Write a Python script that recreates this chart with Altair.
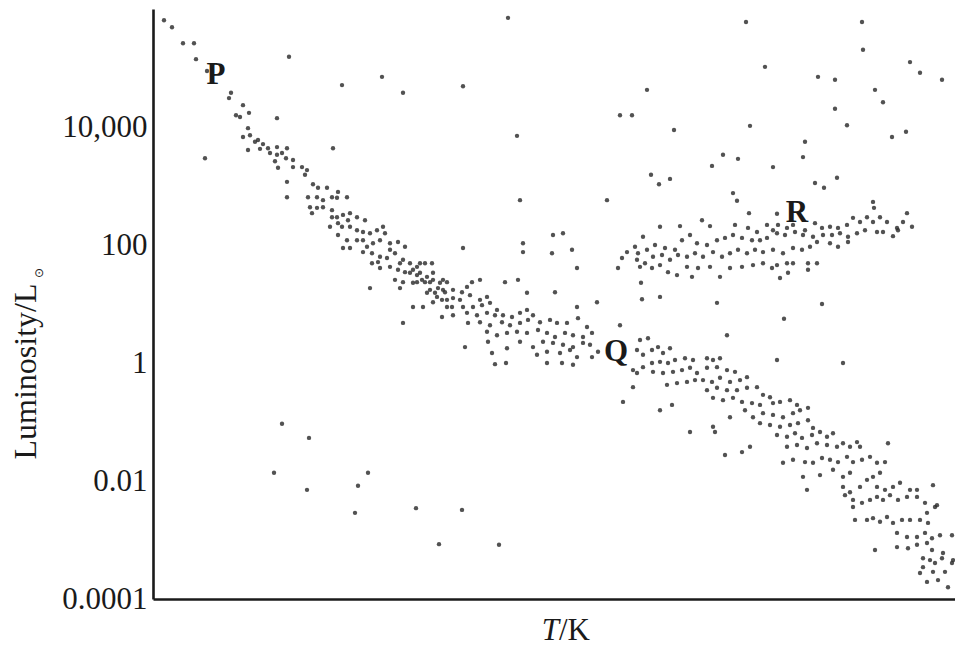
import altair as alt
import pandas as pd

# Hertzsprung-Russell diagram: position along temperature axis (0 = hottest, left)
# and log10 of luminosity in solar units.

main_sequence_upper = [
    (1.1, 5.81), (1.9, 5.69), (3.0, 5.42), (4.1, 5.42), (4.3, 5.15), (5.4, 4.95),
    (7.8, 4.58), (7.6, 4.49), (9.0, 4.37), (9.6, 4.24), (8.7, 4.17), (8.3, 4.20),
    (9.5, 3.98), (9.0, 3.83), (9.7, 3.86), (10.2, 3.75), (10.5, 3.78), (11.0, 3.71),
    (10.7, 3.63), (11.5, 3.64), (11.7, 3.56), (12.4, 3.66), (12.4, 3.53), (12.9, 3.56),
    (13.4, 3.64), (13.3, 3.47), (9.5, 3.61), (12.2, 3.42), (14.0, 3.44), (14.0, 3.32),
    (14.9, 3.32), (15.4, 3.27), (15.2, 3.19), (12.5, 3.31), (13.4, 3.07), (13.4, 2.81),
    (16.0, 3.03), (16.5, 2.97), (17.4, 2.97), (15.5, 2.81), (16.4, 2.81), (17.0, 2.76),
    (17.9, 2.81), (18.4, 2.80), (19.4, 2.81), (18.5, 2.90), (15.7, 2.64), (16.4, 2.63),
    (17.0, 2.64), (17.9, 2.59), (15.9, 2.54), (17.9, 2.47), (18.4, 2.47), (19.0, 2.51),
    (19.7, 2.54), (20.4, 2.47), (21.2, 2.42), (18.5, 2.37), (18.9, 2.31), (19.5, 2.42),
    (19.7, 2.31), (20.4, 2.25), (17.7, 2.31), (21.7, 2.20), (22.4, 2.25), (23.0, 2.31),
    (23.2, 2.20), (18.5, 2.17), (19.4, 2.08), (19.0, 1.95), (19.7, 1.95), (20.4, 2.08),
    (21.0, 2.08), (21.4, 1.97), (22.0, 2.03), (22.7, 2.08), (23.7, 2.03), (24.5, 2.05),
    (25.2, 1.97), (21.0, 1.88), (21.9, 1.86), (22.7, 1.80), (23.4, 1.78), (24.2, 1.86),
    (25.0, 1.75), (25.7, 1.69), (26.4, 1.63), (27.2, 1.69), (27.9, 1.69), (21.9, 1.69),
    (22.7, 1.61), (23.7, 1.63), (24.5, 1.58), (25.2, 1.54), (26.0, 1.58), (26.7, 1.53),
    (27.4, 1.46), (28.0, 1.53), (29.0, 1.41), (24.2, 1.41), (25.0, 1.37), (26.0, 1.36),
    (26.9, 1.41), (27.7, 1.37), (21.7, 1.27), (24.7, 1.27), (27.4, 1.19), (28.2, 1.19),
    (29.0, 1.24), (26.0, 0.95), (27.0, 0.95), (28.0, 1.03), (28.9, 1.07), (29.4, 0.95),
    (21.0, 2.22), (23.7, 1.92), (22.5, 1.71), (24.7, 1.69), (26.7, 1.69), (25.7, 1.53),
    (26.4, 1.49), (26.4, 1.37), (27.2, 1.37), (28.0, 1.41), (28.7, 1.36), (29.4, 1.37),
    (27.7, 1.24), (28.5, 1.27), (29.2, 1.20), (28.4, 1.12), (29.4, 1.07), (29.9, 0.95),
    (28.9, 0.78), (25.0, 0.68),
]

main_sequence_middle = [
    (30.0, 1.24), (30.9, 1.20), (31.4, 1.29), (31.9, 1.37), (32.7, 1.41), (30.0, 1.10),
    (30.7, 1.07), (31.7, 1.15), (32.7, 1.07), (33.4, 1.12), (31.0, 0.95), (32.0, 0.95),
    (32.9, 0.98), (33.7, 1.02), (34.4, 0.90), (30.0, 0.81), (31.4, 0.85), (32.4, 0.81),
    (33.4, 0.85), (34.2, 0.81), (35.0, 0.81), (35.9, 0.78), (36.7, 0.85), (37.4, 0.90),
    (38.0, 0.81), (31.5, 0.68), (32.7, 0.69), (33.7, 0.64), (34.9, 0.69), (35.7, 0.64),
    (36.7, 0.68), (37.5, 0.73), (38.7, 0.69), (39.7, 0.73), (40.4, 0.68), (41.4, 0.68),
    (42.5, 0.76), (43.4, 0.61), (33.4, 0.53), (34.4, 0.47), (35.4, 0.51), (36.4, 0.53),
    (37.4, 0.51), (38.5, 0.56), (39.4, 0.51), (40.2, 0.44), (41.2, 0.51), (42.0, 0.47),
    (43.0, 0.44), (43.9, 0.51), (36.7, 0.36), (38.0, 0.27), (39.0, 0.36), (40.0, 0.34),
    (41.0, 0.31), (42.0, 0.27), (43.0, 0.34), (31.2, 0.27), (33.5, 0.36), (35.4, 0.25),
    (33.9, 0.17), (38.4, 0.14), (39.4, 0.19), (40.7, 0.17), (42.4, 0.10), (34.2, -0.02),
    (35.3, 0.00), (39.4, 0.00), (40.9, 0.00), (42.0, -0.03), (41.7, 0.22), (43.7, 0.31),
    (43.9, 0.10), (44.5, 0.19), (46.7, 0.64), (48.7, 0.39), (49.5, 0.42), (48.4, 0.22),
    (49.0, 0.14), (49.9, 0.22), (48.0, -0.12), (49.0, -0.07), (49.9, 0.00), (48.4, -0.17),
    (48.0, -0.41), (47.0, -0.66),
]

main_sequence_lower = [
    (50.5, 0.27), (51.0, 0.17), (51.7, 0.25), (50.7, 0.02), (51.5, 0.00), (52.2, 0.05),
    (53.2, 0.08), (54.0, 0.05), (55.4, 0.08), (56.0, 0.05), (56.7, 0.08), (50.0, -0.15),
    (51.0, -0.17), (52.0, -0.15), (52.9, -0.12), (53.7, -0.08), (54.4, -0.17), (55.4, -0.08),
    (56.4, -0.07), (57.4, -0.12), (58.2, -0.15), (51.4, -0.37), (52.4, -0.34), (53.4, -0.32),
    (54.2, -0.29), (55.0, -0.29), (55.9, -0.32), (56.7, -0.25), (57.7, -0.32), (58.7, -0.29),
    (59.4, -0.24), (55.4, -0.46), (56.4, -0.42), (57.4, -0.46), (58.4, -0.46), (59.4, -0.42),
    (60.4, -0.41), (61.0, -0.54), (61.7, -0.58), (56.0, -0.59), (57.0, -0.63), (58.0, -0.59),
    (58.9, -0.66), (59.9, -0.68), (60.7, -0.71), (62.0, -0.68), (62.7, -0.66), (63.7, -0.63),
    (64.4, -0.71), (50.7, -0.80), (51.9, -0.71), (57.7, -0.92), (59.2, -0.80), (60.0, -0.92),
    (61.0, -0.85), (62.0, -0.88), (63.0, -0.92), (64.0, -0.85), (64.7, -0.80), (65.5, -0.76),
    (60.7, -1.02), (61.7, -1.05), (62.7, -1.08), (63.7, -1.05), (64.5, -1.02), (65.5, -0.97),
    (66.0, -1.10), (56.0, -1.08), (56.2, -1.17), (59.7, -1.42), (57.2, -1.56), (62.4, -1.22),
    (63.4, -1.25), (64.2, -1.19), (64.9, -1.27), (65.9, -1.22), (66.7, -1.17), (67.4, -1.25),
    (68.0, -1.19), (63.4, -1.42), (64.4, -1.39), (65.4, -1.44), (66.4, -1.36), (67.4, -1.39),
    (68.4, -1.42), (69.0, -1.36), (69.7, -1.42), (70.4, -1.34), (63.0, -1.69), (64.0, -1.64),
    (65.2, -1.68), (66.0, -1.69), (66.9, -1.61), (67.7, -1.64), (68.5, -1.68), (69.4, -1.59),
    (70.0, -1.68), (65.0, -1.93), (66.7, -1.90), (68.0, -1.81), (69.0, -1.93), (69.7, -1.86),
    (65.4, -2.15), (69.0, -2.10), (69.7, -2.19), (70.0, -2.32), (53.7, -1.17), (58.9, -1.51),
    (69.2, -2.24), (70.0, -2.44), (70.7, -1.42), (73.5, -1.36), (70.9, -1.64), (71.7, -1.59),
    (72.4, -1.69), (73.2, -1.68), (70.7, -2.10), (71.4, -1.98), (72.0, -1.93), (72.7, -1.86),
    (72.4, -2.10), (73.2, -2.15), (74.0, -2.10), (74.7, -2.03), (75.7, -2.15), (76.4, -2.15),
    (70.9, -2.37), (71.7, -2.32), (72.4, -2.27), (73.0, -2.32), (73.7, -2.24), (74.5, -2.32),
    (75.4, -2.27), (76.4, -2.27), (77.2, -2.37), (78.0, -2.07), (78.2, -2.44), (70.2, -2.66),
    (71.4, -2.66), (72.0, -2.63), (72.7, -2.69), (73.4, -2.61), (74.0, -2.71), (74.9, -2.66),
    (75.7, -2.66), (76.7, -2.66), (77.4, -2.54), (77.5, -2.71), (78.4, -2.41), (74.4, -2.88),
    (75.4, -2.95), (76.4, -2.95), (77.2, -2.88), (77.9, -2.97), (78.7, -2.92), (79.9, -2.92),
    (72.2, -3.17), (74.4, -3.12), (75.5, -3.14), (76.4, -3.08), (77.4, -3.05), (77.9, -3.17),
    (77.0, -3.31), (77.7, -3.34), (78.2, -3.39), (78.9, -3.31), (79.0, -3.22), (79.9, -3.39),
    (77.0, -3.46), (78.0, -3.54), (79.2, -3.54), (76.7, -3.56), (77.4, -3.71), (78.5, -3.68),
    (79.5, -3.80), (80.0, -3.34),
]

giant_branch = [
    (57.0, 3.53), (58.5, 3.46), (65.0, 3.49), (49.8, 3.19), (50.6, 3.03), (51.7, 3.12),
    (55.9, 3.34), (66.2, 3.05), (67.1, 2.97), (68.4, 3.14), (58.0, 2.88), (58.4, 2.75),
    (59.6, 2.54), (62.4, 2.53), (54.9, 2.42), (55.7, 2.32), (52.7, 2.32), (50.7, 2.31),
    (72.0, 2.73), (72.1, 2.63), (75.4, 2.54),
    (58.2, 2.34), (59.5, 2.29), (60.4, 2.22), (61.4, 2.34), (62.0, 2.25), (62.5, 2.34),
    (63.4, 2.29), (64.0, 2.34), (65.2, 2.25), (66.2, 2.37), (66.9, 2.29), (67.7, 2.31),
    (68.5, 2.29), (69.4, 2.34), (70.0, 2.46), (70.7, 2.39), (71.4, 2.47), (72.0, 2.39),
    (72.7, 2.47), (73.4, 2.39), (74.4, 2.29), (75.0, 2.39), (75.9, 2.31), (49.0, 2.14),
    (48.2, 1.97), (49.4, 1.92), (50.2, 2.00), (51.2, 1.95), (52.2, 1.92), (52.9, 2.08),
    (53.7, 2.17), (54.4, 2.03), (55.4, 2.00), (56.4, 2.08), (57.2, 2.12), (58.0, 2.17),
    (58.9, 2.12), (59.9, 2.08), (60.7, 2.08), (61.4, 2.12), (62.4, 2.20), (63.2, 2.17),
    (64.2, 2.22), (65.0, 2.17), (66.0, 2.14), (67.0, 2.17), (67.9, 2.17), (68.7, 2.20),
    (69.5, 2.14), (70.4, 2.20), (71.2, 2.25), (72.4, 2.22), (73.0, 2.22), (74.0, 2.15),
    (74.5, 2.25), (48.4, 1.75), (49.2, 1.69), (50.0, 1.80), (50.9, 1.83), (51.7, 1.75),
    (52.5, 1.83), (53.4, 1.80), (54.2, 1.86), (55.0, 1.80), (56.0, 1.88), (56.9, 1.80),
    (57.7, 1.86), (58.5, 1.92), (59.4, 1.86), (60.2, 1.92), (61.0, 1.88), (62.0, 1.92),
    (63.0, 1.86), (64.0, 1.95), (64.9, 1.92), (65.7, 1.97), (66.4, 2.05), (67.7, 2.03),
    (68.5, 1.97), (69.5, 2.05), (48.7, 1.63), (49.9, 1.61), (50.7, 1.66), (51.5, 1.54),
    (52.4, 1.49), (53.4, 1.63), (53.9, 1.46), (54.5, 1.61), (55.7, 1.63), (56.7, 1.46),
    (57.7, 1.61), (58.9, 1.63), (60.0, 1.66), (61.0, 1.69), (61.9, 1.61), (62.4, 1.66),
    (63.4, 1.69), (64.0, 1.69), (65.5, 1.69), (66.4, 1.69), (65.5, 1.58), (62.7, 1.44),
    (63.5, 1.53), (48.8, 1.36), (48.9, 1.08), (50.7, 1.12), (56.4, 1.02), (66.9, 1.00),
    (63.1, 0.75), (46.9, 1.78), (47.4, 1.88), (48.5, 1.86), (46.5, 1.61),
]

scattered_stars = [
    (12.4, 4.15), (18.0, 3.64), (22.9, 4.85), (25.0, 4.58), (18.9, 4.71), (5.2, 3.47),
    (13.6, 5.19), (31.0, 4.69), (36.4, 3.85), (35.5, 5.85), (46.7, 4.20), (47.9, 4.20),
    (49.4, 4.63), (52.1, 3.95), (59.7, 4.02), (61.2, 5.02), (66.5, 4.85), (68.2, 4.80),
    (68.2, 4.31), (69.4, 4.03), (72.2, 4.63), (73.0, 4.42), (75.7, 5.10), (76.7, 4.92),
    (78.9, 4.80), (73.9, 3.83), (75.3, 3.92), (65.2, 3.75), (70.9, 5.78), (59.3, 5.78),
    (71.0, 5.31), (62.0, 3.32), (31.0, 1.95), (36.7, 2.76), (37.0, 2.03), (37.0, 1.88),
    (40.0, 2.17), (41.0, 2.20), (39.9, 1.86), (41.9, 1.92), (42.4, 1.61), (40.2, 1.20),
    (36.5, 1.41), (35.2, 1.37), (37.4, 1.19), (42.4, 0.95), (44.4, 1.03), (45.4, 2.76),
    (57.4, 0.47), (62.4, 0.05), (69.0, 0.00),
]

white_dwarfs = [
    (12.9, -1.03), (15.6, -1.27), (12.1, -1.86), (15.4, -2.15), (21.5, -1.86),
    (20.5, -2.08), (20.2, -2.54), (26.3, -2.46), (30.9, -2.49), (28.6, -3.07),
    (34.6, -3.08),
]

region_labels = ["P", "Q", "R"]
region_t = [6.3, 46.3, 64.4]
region_log_lum = [4.88, 0.19, 2.54]

tick_values = [-4, -2, 0, 2, 4]
tick_labels = ["0.0001", "0.01", "1", "100", "10,000"]

groups = {
    "main sequence": main_sequence_upper + main_sequence_middle + main_sequence_lower,
    "giants": giant_branch,
    "scattered": scattered_stars,
    "white dwarfs": white_dwarfs,
}
rows = []
for name, pts in groups.items():
    for t, lum in pts:
        rows.append({"group": name, "t_index": t, "log_lum": lum})
stars = pd.DataFrame(rows)

labels_df = pd.DataFrame({"label": region_labels, "t_index": region_t, "log_lum": region_log_lum})

label_expr = " : ".join(
    f"datum.value == {v} ? '{s}'" for v, s in zip(tick_values[:-1], tick_labels[:-1])
) + f" : '{tick_labels[-1]}'"

INK = "#1a1a1a"
SERIF = "Liberation Serif"

x_scale = alt.Scale(domain=[0, 80.2], nice=False, zero=False)
y_scale = alt.Scale(domain=[-4, 6], nice=False, zero=False)

x_axis = alt.Axis(labels=False, ticks=False, tickSize=0, grid=False, title=None,
                  domainColor=INK, domainWidth=2.6)
y_axis = alt.Axis(values=tick_values, labelExpr=label_expr, ticks=False, tickSize=0,
                  grid=False, labelFont=SERIF, labelFontSize=31, labelColor=INK,
                  labelPadding=6, labelFlush=False, labelOverlap=False,
                  domainColor=INK, domainWidth=2.6,
                  title="Luminosity/L", titleFont=SERIF, titleFontSize=32,
                  titleFontWeight="normal", titleColor=INK, titleAngle=270,
                  titleBaseline="alphabetic", titleAlign="center",
                  titleX=-118, titleY=362)

points = alt.Chart(stars).mark_circle(size=19, color="#2c2c2c", opacity=0.82).encode(
    x=alt.X("t_index:Q", scale=x_scale, axis=x_axis),
    y=alt.Y("log_lum:Q", scale=y_scale, axis=y_axis),
)

letters = alt.Chart(labels_df).mark_text(
    font=SERIF, fontSize=31, fontWeight="bold", color=INK, align="center", baseline="middle"
).encode(
    x=alt.X("t_index:Q", scale=x_scale, axis=x_axis),
    y=alt.Y("log_lum:Q", scale=y_scale, axis=y_axis),
    text="label:N",
)

one = pd.DataFrame({"k": [0]})
t_italic = alt.Chart(one).mark_text(
    text="T", font=SERIF, fontSize=31, fontStyle="italic", color=INK,
    align="right", baseline="alphabetic"
).encode(x=alt.value(406), y=alt.value(631))
t_unit = alt.Chart(one).mark_text(
    text="/K", font=SERIF, fontSize=31, color=INK, align="left", baseline="alphabetic"
).encode(x=alt.value(406), y=alt.value(631))
sun = alt.Chart(one).mark_text(
    text="\u2299", font="DejaVu Sans", fontSize=12, color=INK, angle=270,
    align="center", baseline="middle"
).encode(x=alt.value(-114.5), y=alt.value(264))

chart = alt.layer(points, letters, t_italic, t_unit, sun).properties(
    width=802, height=590,
    padding={"left": 145, "top": 1, "right": 0, "bottom": 47},
    autosize=alt.AutoSizeParams(type="none"),
    background="white",
).configure_view(stroke=None)

chart.save("out.html", embed_options={"renderer": "svg", "actions": False})
